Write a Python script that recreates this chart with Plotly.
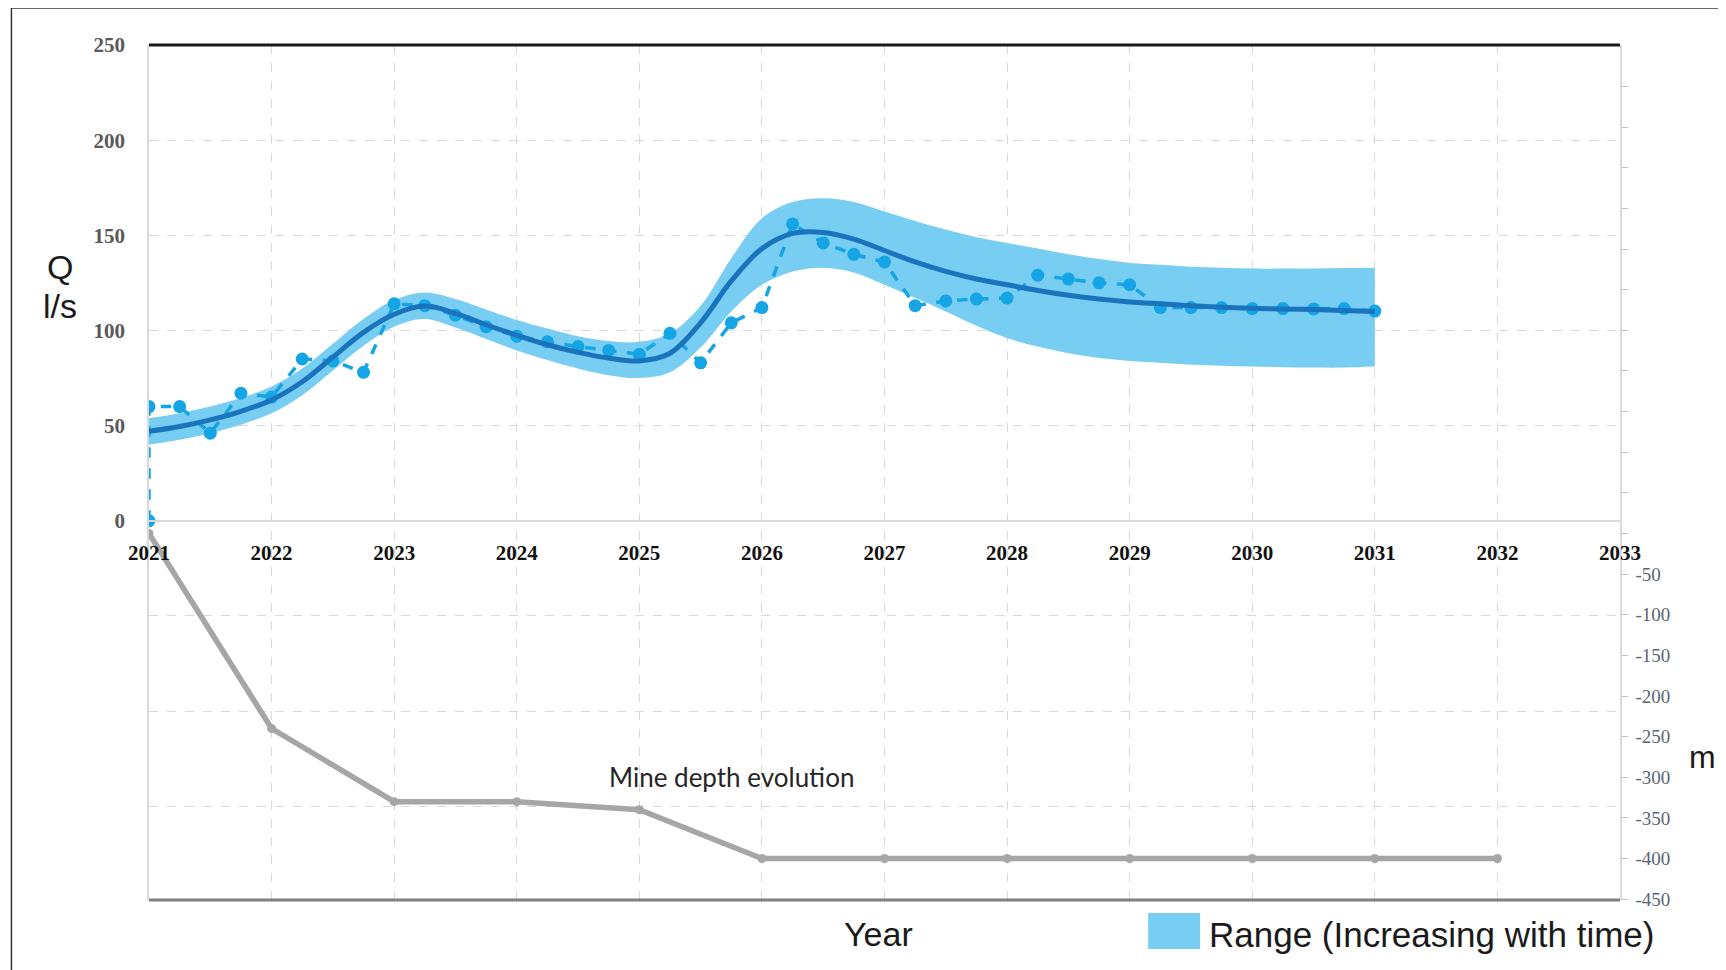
import plotly.graph_objects as go

# ---------------- data ----------------
years_obs = [2021, 2021, 2021.25, 2021.5, 2021.75, 2022, 2022.25, 2022.5, 2022.75,
             2023, 2023.25, 2023.5, 2023.75, 2024, 2024.25, 2024.5, 2024.75,
             2025, 2025.25, 2025.5, 2025.75, 2026, 2026.25, 2026.5, 2026.75,
             2027, 2027.25, 2027.5, 2027.75, 2028, 2028.25, 2028.5, 2028.75,
             2029, 2029.25, 2029.5, 2029.75, 2030, 2030.25, 2030.5, 2030.75, 2031]
q_obs = [0, 60, 60, 46, 67, 65, 85, 84, 78,
         114, 113, 108, 102, 97, 94, 91.5, 89.5,
         87.5, 98.5, 83, 104, 112, 156, 146, 140,
         136, 113, 115.5, 116.5, 117, 129, 127, 125,
         124, 112, 112, 112, 111.5, 111.5, 111.3, 111.5, 110.2]

years_fit = [2021, 2021.25, 2021.5, 2021.75, 2022, 2022.25, 2022.5, 2022.75,
             2023, 2023.25, 2023.5, 2023.75, 2024, 2024.25, 2024.5, 2024.75,
             2025, 2025.25, 2025.5, 2025.75, 2026, 2026.25, 2026.5, 2026.75,
             2027, 2027.25, 2027.5, 2027.75, 2028, 2028.25, 2028.5, 2028.75,
             2029, 2029.25, 2029.5, 2029.75, 2030, 2030.25, 2030.5, 2030.75, 2031]
q_mean = [47, 49.5, 53, 57.5, 63.5, 73, 86, 99,
          108.5, 112.8, 109, 103, 97.5, 92.5, 88.5, 85.5,
          84, 88, 104, 126, 143, 151, 151.5, 148,
          142, 136, 131, 127, 124, 121, 118.5, 116.5,
          115, 114, 113, 112.2, 111.6, 111.3, 111, 110.5, 110]
q_upper = [54, 56.5, 60, 64.5, 70.5, 80, 93, 106,
           116, 120, 116.5, 111, 105.5, 101, 97, 94.5,
           94, 98.5, 113, 138, 159, 167.5, 169.5, 167.5,
           162.5, 157.5, 153, 149, 146, 143, 140, 137.5,
           135.5, 134.5, 133.5, 133, 132.5, 132.5, 132.5, 132.8, 133]
q_lower = [40, 42.5, 46, 50.5, 56.5, 66, 79, 92,
           102, 106, 101.5, 95.5, 89.5, 84.5, 80, 76.5,
           75, 78, 91, 110, 124, 131, 133, 130.5,
           124, 117, 110, 102.5, 96, 91.5, 88, 85.5,
           84, 83, 82, 81.5, 81, 80.7, 80.5, 80.5, 81]

years_depth = [2021, 2022, 2023, 2024, 2025, 2026, 2027, 2028, 2029, 2030, 2031, 2032]
depth_m = [0, -240, -330, -330, -340, -400, -400, -400, -400, -400, -400, -400]

year_ticks = list(range(2021, 2034))
q_ticks = [-150, -100, -50, 0, 50, 100, 150, 200, 250]
q_ticklabels = ["" if v < 0 else str(v) for v in q_ticks]
m_ticks = list(range(-450, 600, 50))
m_ticklabels = [str(v) if v < 0 else "" for v in m_ticks]

# ---------------- styles ----------------
BAND = "#78CDF3"
MEAN = "#1A74BD"
OBS = "#15A4E4"
GRAY = "#A6A6A6"
GRID = "#D9D9D9"

fig = go.Figure()
fig.add_trace(go.Scatter(x=years_fit, y=q_lower, mode="lines",
                         line=dict(width=0, shape="spline", color=BAND),
                         showlegend=False, hoverinfo="skip"))
fig.add_trace(go.Scatter(x=years_fit, y=q_upper, mode="lines",
                         line=dict(width=0, shape="spline", color=BAND),
                         fill="tonexty", fillcolor=BAND,
                         name="Range (Increasing with time)", showlegend=False))
fig.add_trace(go.Scatter(x=years_obs, y=q_obs, mode="lines+markers",
                         line=dict(color=OBS, width=3.5, dash="dash"),
                         marker=dict(size=13, color=OBS),
                         name="Q", showlegend=False))
fig.add_trace(go.Scatter(x=years_fit, y=q_mean, mode="lines",
                         line=dict(color=MEAN, width=5, shape="spline"),
                         name="Trend", showlegend=False))
fig.add_trace(go.Scatter(x=years_depth, y=depth_m, yaxis="y2", mode="lines+markers",
                         line=dict(color=GRAY, width=5.5),
                         marker=dict(size=9, color=GRAY),
                         name="Mine depth evolution", showlegend=False))

# page has an 8px body margin, so the figure is 8px smaller than the window
fig.update_layout(
    width=1718, height=962,
    margin=dict(l=141, r=106, t=37, b=70),
    paper_bgcolor="white", plot_bgcolor="white",
    xaxis=dict(range=[2021, 2033], tickvals=year_ticks, anchor="free",
               position=(900 - 520.7) / 855,
               showline=True, linecolor=GRID, linewidth=1.5,
               showgrid=True, gridcolor=GRID, griddash="dash", gridwidth=1,
               ticks="", ticklabelstandoff=13, zeroline=False,
               tickfont=dict(family="Liberation Serif", size=21, color="#111", weight="bold")),
    yaxis=dict(range=[-199.3, 250], tickvals=q_ticks, ticktext=q_ticklabels,
               showgrid=True, gridcolor=GRID, griddash="dash", gridwidth=1,
               showline=True, linecolor=GRID, linewidth=1.5, zeroline=False,
               ticks="", ticklabelstandoff=18,
               tickfont=dict(family="Liberation Serif", size=21, color="#595959", weight="bold")),
    yaxis2=dict(range=[-451, 601], overlaying="y", side="right",
                tickvals=m_ticks, ticktext=m_ticklabels,
                showgrid=False, showline=True, linecolor=GRID, linewidth=1.5,
                zeroline=False, ticks="outside", ticklen=6, tickcolor="#BFBFBF",
                ticklabelstandoff=4,
                tickfont=dict(family="Liberation Serif", size=19, color="#5B6573")),
    showlegend=False,
)

def px_x(p):
    return (p - 148.6) / 1471.4

def px_y(p):
    return (900 - p) / 855

shapes = [
    dict(type="line", xref="paper", yref="paper", x0=0, x1=1, y0=1, y1=1,
         line=dict(color="#1A1A1A", width=3)),
    dict(type="line", xref="paper", yref="paper", x0=0, x1=1, y0=0, y1=0,
         line=dict(color="#808080", width=3)),
    dict(type="line", xref="paper", yref="paper", x0=px_x(11), x1=px_x(1718),
         y0=px_y(8), y1=px_y(8), line=dict(color="#333", width=1.5)),
    dict(type="line", xref="paper", yref="paper", x0=px_x(11), x1=px_x(11),
         y0=px_y(8), y1=px_y(972), line=dict(color="#333", width=1.5)),
    dict(type="rect", xref="paper", yref="paper", x0=px_x(1148), x1=px_x(1200),
         y0=px_y(949), y1=px_y(913), fillcolor=BAND, line=dict(width=0)),
]
fig.update_layout(shapes=shapes)

big = dict(family="Liberation Sans", size=34, color="#1A1A1A")

def label(text, x, y, font, xanchor="center"):
    return dict(text=text, x=px_x(x), y=px_y(y), xref="paper", yref="paper",
                xanchor=xanchor, yanchor="middle", showarrow=False, font=font)

annotations = [
    label("Q", 60, 267, big),
    label("l/s", 60, 306, big),
    label("m", 1703, 757, dict(family="Liberation Sans", size=32, color="#1A1A1A")),
    label("Year", 878, 934, big),
    label("Range (Increasing with time)", 1207, 934,
          dict(family="Liberation Sans", size=35, color="#1A1A1A"), xanchor="left"),
    dict(text="Mine depth evolution", x=2025.75, y=-300, xref="x", yref="y2",
         xanchor="center", yanchor="middle",
         showarrow=False, font=dict(family="Lato", size=26, color="#262626")),
]
fig.update_layout(annotations=annotations)

fig.write_html("out.html")
